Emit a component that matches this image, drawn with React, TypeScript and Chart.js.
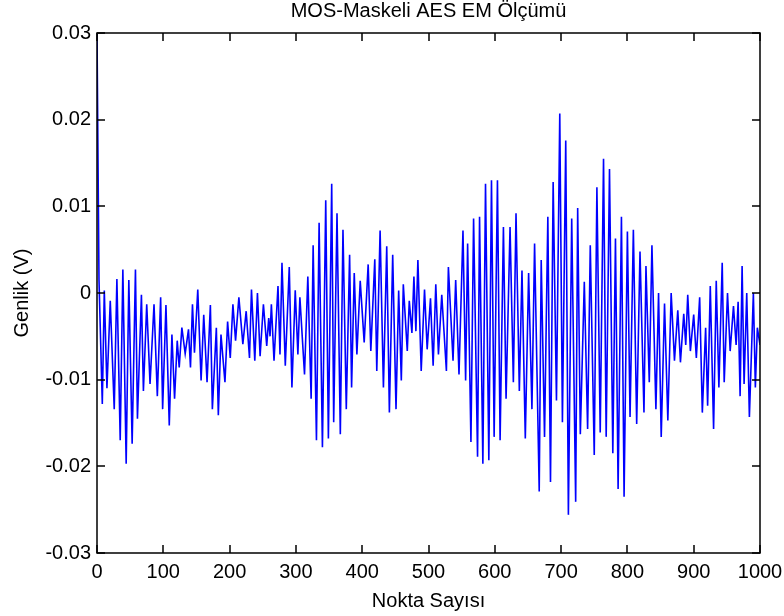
import React, { useEffect, useRef } from "react";
import { Chart, registerables } from "chart.js";

Chart.register(...registerables);

const TITLE = "MOS-Maskeli AES EM Ölçümü";
const X_TITLE = "Nokta Sayısı";
const Y_TITLE = "Genlik (V)";

const X_TICKS = [0, 100, 200, 300, 400, 500, 600, 700, 800, 900, 1000];
const Y_TICKS = [-0.03, -0.02, -0.01, 0, 0.01, 0.02, 0.03];

// Sample index of each read-off extreme (Nokta Sayısı)
const sampleIndex = [
  0, 3, 8, 11, 15, 20, 26, 30, 35, 39, 44, 48, 53, 58, 61, 67, 70, 75, 80, 86,
  91, 96, 99, 104, 109, 113, 117, 121, 124, 128, 133, 138, 141, 144, 147, 152, 157, 161, 166, 171,
  174, 180, 183, 187, 193, 197, 201, 205, 209, 214, 220, 225, 230, 233, 238, 242, 246, 251, 256, 259,
  261, 263, 267, 273, 276, 279, 284, 290, 294, 299, 303, 306, 313, 318, 323, 326, 331, 335, 340, 345,
  349, 354, 357, 362, 367, 371, 376, 381, 384, 388, 392, 397, 403, 409, 413, 419, 422, 427, 432, 437,
  441, 446, 451, 455, 459, 462, 468, 471, 475, 478, 481, 484, 489, 494, 498, 503, 507, 511, 515, 520,
  527, 530, 537, 541, 546, 552, 556, 559, 564, 568, 574, 577, 582, 586, 591, 595, 599, 604, 608, 613,
  617, 623, 628, 632, 637, 641, 646, 651, 656, 660, 667, 670, 675, 680, 684, 688, 693, 698, 702, 707,
  711, 716, 722, 725, 729, 735, 740, 744, 750, 754, 759, 764, 768, 773, 778, 782, 786, 791, 795, 800,
  804, 809, 814, 819, 825, 828, 833, 837, 843, 847, 851, 856, 861, 866, 871, 876, 880, 885, 888, 891,
  895, 900, 904, 909, 913, 918, 921, 925, 930, 934, 938, 943, 946, 951, 955, 960, 964, 967, 970, 973,
  976, 980, 984, 990, 993, 996, 1000,
];

// Amplitude in millivolts at those samples (Genlik)
const amplitudeMv = [
  30, 1.5, -12.8, 0.3, -11.0, -0.9, -13.4, 1.6, -17.0, 2.7, -19.7, 1.5, -17.4, 2.7, -14.5, -0.2, -11.3, -1.3, -10.5, -1.3,
  -11.9, -0.5, -13.4, -1.4, -15.3, -4.8, -12.2, -5.5, -8.6, -4.0, -7.0, -4.2, -8.6, -1.3, -6.9, 0.4, -10.1, -2.5, -10.3, -1.4,
  -13.4, -4.0, -14.1, -4.8, -10.3, -3.3, -7.5, -1.3, -5.5, -0.5, -5.9, -2.1, -7.5, 0.4, -7.8, 0.0, -7.3, -1.3, -6.1, -2.9,
  -5.0, -1.3, -7.8, 0.8, -7.1, 3.5, -8.4, 3.0, -10.9, 0.3, -7.1, -0.5, -9.4, 1.9, -12.2, 5.5, -17.0, 8.1, -17.8, 10.7,
  -16.8, 12.6, -14.9, 9.2, -16.3, 7.3, -13.4, 4.4, -10.9, 2.3, -7.1, 1.4, -5.7, 3.3, -6.7, 3.9, -9.0, 7.2, -10.9, 5.4,
  -13.8, 4.4, -13.4, 0.3, -10.1, 1.0, -6.7, -0.9, -4.6, 1.9, -4.4, 3.8, -9.0, 0.4, -6.5, -0.6, -8.4, 1.0, -7.1, -0.2,
  -9.0, 3.0, -7.8, 1.5, -9.4, 7.2, -10.1, 5.7, -17.2, 8.6, -18.9, 8.8, -19.7, 12.6, -19.3, 13.0, -16.6, 13.0, -17.0, 7.6,
  -12.2, 7.6, -10.3, 9.2, -11.3, 2.6, -16.8, 2.3, -13.4, 5.7, -22.9, 3.8, -16.6, 8.8, -21.8, 12.8, -12.4, 20.7, -14.9, 17.6,
  -25.6, 8.6, -24.1, 9.8, -16.3, 1.3, -15.7, 5.5, -18.7, 12.2, -16.1, 15.5, -16.6, 14.3, -18.5, 6.3, -22.6, 8.8, -23.5, 7.1,
  -14.3, 7.3, -15.1, 4.8, -13.8, 3.1, -10.3, 5.5, -13.4, 0.0, -16.6, -1.2, -14.7, 0.0, -7.8, -2.0, -8.0, -2.4, -6.0, -0.2,
  -6.7, -2.5, -7.5, -0.5, -13.8, -4.0, -13.0, 0.8, -15.7, 1.4, -10.9, 3.5, -10.3, 0.0, -6.7, -1.5, -6.0, -1.0, -11.9, 3.1,
  -10.5, 0.0, -14.3, 0.0, -10.9, -4.0, -6.0,
];

const FONT = '"Liberation Sans", Arial, Helvetica, sans-serif';

function drawBox(chart: any) {
  const ctx: CanvasRenderingContext2D = chart.ctx;
  const area = chart.chartArea;
  const xs = chart.scales.x;
  const ys = chart.scales.y;
  if (!area || !xs || !ys) return;
  const L = Math.round(area.left);
  const R = Math.round(area.right);
  const T = Math.round(area.top);
  const B = Math.round(area.bottom);
  const len = 8;
  ctx.save();
  ctx.strokeStyle = "#000000";
  ctx.lineWidth = 1.5;
  ctx.lineCap = "butt";
  ctx.beginPath();
  ctx.moveTo(L, T);
  ctx.lineTo(R, T);
  ctx.lineTo(R, B);
  ctx.lineTo(L, B);
  ctx.closePath();
  ctx.stroke();
  ctx.beginPath();
  for (let i = 0; i < X_TICKS.length; i++) {
    const px = Math.round(xs.getPixelForValue(X_TICKS[i]));
    ctx.moveTo(px, B);
    ctx.lineTo(px, B - len);
    ctx.moveTo(px, T);
    ctx.lineTo(px, T + len);
  }
  for (let i = 0; i < Y_TICKS.length; i++) {
    const py = Math.round(ys.getPixelForValue(Y_TICKS[i]));
    ctx.moveTo(L, py);
    ctx.lineTo(L + len, py);
    ctx.moveTo(R, py);
    ctx.lineTo(R - len, py);
  }
  ctx.stroke();
  ctx.restore();
}

const boxPlugin = {
  id: "matlabBox",
  afterDraw(chart: any) {
    drawBox(chart);
  },
};

export default function App() {
  const ref = useRef<HTMLCanvasElement | null>(null);

  useEffect(() => {
    if (!ref.current) return;
    const points = sampleIndex.map((x, i) => ({ x, y: amplitudeMv[i] / 1000 }));
    const chart = new Chart(ref.current, {
      type: "line",
      data: {
        datasets: [
          {
            data: points,
            borderColor: "#0000ff",
            borderWidth: 1.6,
            pointRadius: 0,
            tension: 0,
            fill: false,
          },
        ],
      },
      options: {
        responsive: false,
        animation: false,
        layout: { padding: { left: 0, right: 24, top: 0, bottom: 0 } },
        plugins: {
          legend: { display: false },
          tooltip: { enabled: false },
          title: {
            display: true,
            fullSize: false,
            text: TITLE,
            color: "#000",
            font: { family: FONT, size: 20, weight: "normal", lineHeight: 1.1 },
            padding: { top: 0, bottom: 11 },
          },
        },
        scales: {
          x: {
            type: "linear",
            min: X_TICKS[0],
            max: X_TICKS[X_TICKS.length - 1],
            grid: { display: false, drawTicks: false },
            border: { display: false },
            afterBuildTicks: (s: any) => {
              s.ticks = X_TICKS.map((v) => ({ value: v }));
            },
            ticks: {
              autoSkip: false,
              maxRotation: 0,
              padding: 7,
              color: "#000",
              font: { family: FONT, size: 20 },
              callback: (v: any) => String(v),
            },
            title: {
              display: true,
              text: X_TITLE,
              color: "#000",
              font: { family: FONT, size: 20 },
              padding: { top: 0, bottom: 3 },
            },
            afterFit: (s: any) => {
              s.height = 63;
              s.paddingLeft = 0;
              s.paddingRight = 0;
            },
          },
          y: {
            type: "linear",
            min: Y_TICKS[0],
            max: Y_TICKS[Y_TICKS.length - 1],
            grid: { display: false, drawTicks: false },
            border: { display: false },
            afterBuildTicks: (s: any) => {
              s.ticks = Y_TICKS.map((v) => ({ value: v }));
            },
            ticks: {
              padding: 6,
              color: "#000",
              font: { family: FONT, size: 20 },
              callback: (v: any) => String(Number(Number(v).toFixed(2))),
            },
            title: {
              display: true,
              text: Y_TITLE,
              color: "#000",
              font: { family: FONT, size: 20 },
              padding: { top: 10, bottom: 0 },
            },
            afterFit: (s: any) => {
              s.width = 97;
              s.paddingTop = 0;
              s.paddingBottom = 0;
            },
          },
        },
      },
      plugins: [boxPlugin],
    });
    return () => chart.destroy();
  }, []);

  return (
    <div style={{ position: "fixed", left: 0, top: 0, width: 784, height: 616, background: "#fff" }}>
      <canvas ref={ref} width={784} height={616} />
    </div>
  );
}
